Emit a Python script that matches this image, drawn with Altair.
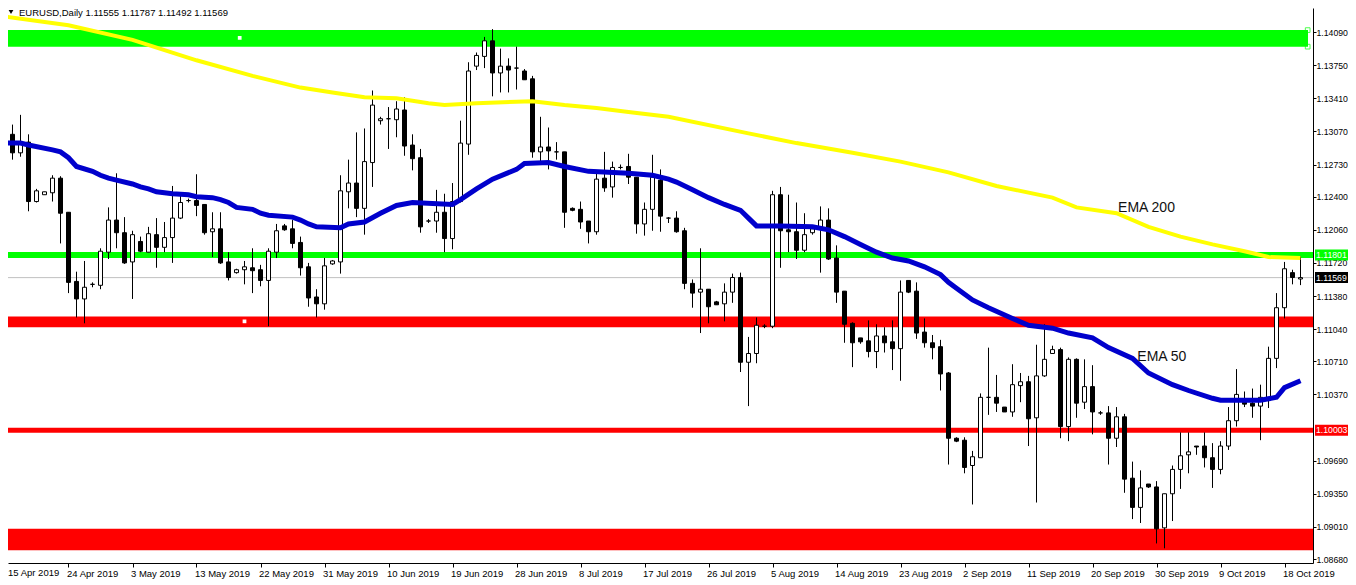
import altair as alt
import pandas as pd

# ---------------- data (EURUSD daily) ----------------
opens = [
    1.1304, 1.1304, 1.1285, 1.1296, 1.1235, 1.1242, 1.1244, 1.1259, 1.1224, 1.1153,
    1.1135, 1.1150, 1.1149, 1.1183, 1.1216, 1.1203, 1.1173, 1.1194, 1.1183, 1.1201,
    1.1188, 1.1198, 1.1218, 1.1236, 1.1236, 1.1232, 1.1204, 1.1207, 1.1173, 1.1162,
    1.1165, 1.1167, 1.1165, 1.1154, 1.1183, 1.1210, 1.1207, 1.1193, 1.1168, 1.1137,
    1.1130, 1.1171, 1.1173, 1.1245, 1.1254, 1.1228, 1.1275, 1.1318, 1.1320, 1.1319,
    1.1329, 1.1293, 1.1280, 1.1215, 1.1215, 1.1224, 1.1197, 1.1235, 1.1294, 1.1374,
    1.1384, 1.1400, 1.1367, 1.1374, 1.1372, 1.1369, 1.1361, 1.1286, 1.1291, 1.1286,
    1.1286, 1.1228, 1.1227, 1.1215, 1.1204, 1.1259, 1.1250, 1.1270, 1.1271, 1.1260,
    1.1212, 1.1227, 1.1257, 1.1218, 1.1218, 1.1205, 1.1151, 1.1142, 1.1145, 1.1132,
    1.1130, 1.1142, 1.1157, 1.1070, 1.1079, 1.1107, 1.1107, 1.1242, 1.1206, 1.1204,
    1.1185, 1.1203, 1.1207, 1.1216, 1.1177, 1.1143, 1.1110, 1.1095, 1.1092, 1.1081,
    1.1097, 1.1091, 1.1084, 1.1154, 1.1143, 1.1101, 1.1090, 1.1086, 1.1059, 1.0992,
    1.0990, 1.0964, 1.0972, 1.1034, 1.1034, 1.1024, 1.1019, 1.1046, 1.1050, 1.1013,
    1.1056, 1.1079, 1.1083, 1.1004, 1.1073, 1.1029, 1.1045, 1.1018, 1.1018, 1.0992,
    1.1014, 1.0951, 1.0921, 1.0945, 1.0942, 1.0900, 1.0935, 1.0960, 1.0975, 1.0984,
    1.0984, 1.0972, 1.0960, 1.0984, 1.1010, 1.1029, 1.1028, 1.1025, 1.1034, 1.1074,
    1.1126, 1.1162, 1.11555,
]
highs = [
    1.1321, 1.1314, 1.1324, 1.1304, 1.1248, 1.1245, 1.1262, 1.1261, 1.1224, 1.1163,
    1.1174, 1.1152, 1.1187, 1.1229, 1.1264, 1.1219, 1.1205, 1.1199, 1.1209, 1.1218,
    1.1214, 1.1251, 1.1244, 1.1238, 1.1263, 1.1232, 1.1224, 1.1224, 1.1183, 1.1166,
    1.1174, 1.1187, 1.1170, 1.1187, 1.1212, 1.1212, 1.1216, 1.1199, 1.1172, 1.1145,
    1.1177, 1.1175, 1.1262, 1.1278, 1.1306, 1.1310, 1.1349, 1.1322, 1.1332, 1.1338,
    1.1342, 1.1304, 1.1289, 1.1217, 1.1247, 1.1243, 1.1254, 1.1318, 1.1378, 1.1388,
    1.1404, 1.1412, 1.1392, 1.1382, 1.1394, 1.1371, 1.1364, 1.1322, 1.1311, 1.1296,
    1.1286, 1.1229, 1.1235, 1.1215, 1.1264, 1.1286, 1.1276, 1.1273, 1.1284, 1.1260,
    1.1234, 1.1283, 1.1268, 1.1219, 1.1225, 1.1208, 1.1155, 1.1187, 1.1145, 1.1133,
    1.1151, 1.1161, 1.1162, 1.1096, 1.1116, 1.1109, 1.1246, 1.1250, 1.1242, 1.1234,
    1.1223, 1.1207, 1.1230, 1.1228, 1.1190, 1.1143, 1.1111, 1.1095, 1.1113, 1.1109,
    1.1106, 1.1113, 1.1154, 1.1154, 1.1152, 1.1115, 1.1098, 1.1093, 1.1060, 1.0993,
    1.0993, 1.0979, 1.1038, 1.1085, 1.1057, 1.1024, 1.1068, 1.1059, 1.1056, 1.1088,
    1.1109, 1.1087, 1.1085, 1.1075, 1.1074, 1.1073, 1.1067, 1.1020, 1.1025, 1.1024,
    1.1017, 1.0968, 1.0959, 1.0945, 1.0948, 1.0935, 1.0964, 1.0998, 1.0998, 1.0984,
    1.0998, 1.0987, 1.0989, 1.1024, 1.1063, 1.1040, 1.1043, 1.1047, 1.1086, 1.1141,
    1.1173, 1.1165, 1.11787,
]
lows = [
    1.1298, 1.1278, 1.1281, 1.1225, 1.1234, 1.1242, 1.1235, 1.1192, 1.1141, 1.1116,
    1.1110, 1.1147, 1.1145, 1.1176, 1.1187, 1.1171, 1.1135, 1.1183, 1.1183, 1.1167,
    1.1183, 1.1172, 1.1217, 1.1234, 1.1220, 1.1201, 1.1178, 1.1171, 1.1154, 1.1161,
    1.1150, 1.1141, 1.1148, 1.1107, 1.1177, 1.1205, 1.1187, 1.1159, 1.1127, 1.1116,
    1.1124, 1.1170, 1.1161, 1.1228, 1.1219, 1.1201, 1.1250, 1.1314, 1.1289, 1.1301,
    1.1282, 1.1267, 1.1203, 1.1213, 1.1203, 1.1183, 1.1186, 1.1234, 1.1283, 1.1370,
    1.1372, 1.1343, 1.1347, 1.1347, 1.1350, 1.1360, 1.1280, 1.1276, 1.1268, 1.1278,
    1.1208, 1.1225, 1.1207, 1.1192, 1.1201, 1.1245, 1.1239, 1.1268, 1.1253, 1.1202,
    1.1200, 1.1205, 1.1204, 1.1213, 1.1203, 1.1145, 1.1126, 1.1100, 1.1110, 1.1129,
    1.1112, 1.1131, 1.1060, 1.1025, 1.1069, 1.1105, 1.1105, 1.1167, 1.1183, 1.1176,
    1.1183, 1.1201, 1.1162, 1.1175, 1.1131, 1.1090, 1.1065, 1.1089, 1.1075, 1.1064,
    1.1080, 1.1062, 1.1051, 1.1141, 1.1094, 1.1085, 1.1073, 1.1041, 1.0965, 1.0988,
    1.0956, 1.0924, 1.0972, 1.1016, 1.1019, 1.1019, 1.1014, 1.1029, 1.0984, 1.0926,
    1.1055, 1.1079, 1.0992, 1.0989, 1.1013, 1.1022, 1.0996, 1.1016, 1.0965, 1.0983,
    1.0936, 1.0909, 1.0905, 1.0941, 1.0884, 1.0879, 1.0907, 1.0940, 1.0956, 1.0975,
    1.0962, 1.0941, 1.0955, 1.0980, 1.1004, 1.1024, 1.1013, 1.0990, 1.1023, 1.1064,
    1.1115, 1.1150, 1.11492,
]
closes = [
    1.1302, 1.1285, 1.1295, 1.1235, 1.1246, 1.1245, 1.1259, 1.1223, 1.1152, 1.1135,
    1.1147, 1.1150, 1.1184, 1.1216, 1.1203, 1.1172, 1.1201, 1.1184, 1.1202, 1.1188,
    1.1198, 1.1218, 1.1234, 1.1236, 1.1231, 1.1203, 1.1207, 1.1172, 1.1157, 1.1165,
    1.1168, 1.1164, 1.1154, 1.1184, 1.1205, 1.1206, 1.1192, 1.1167, 1.1136, 1.1130,
    1.1169, 1.1174, 1.1246, 1.1254, 1.1228, 1.1276, 1.1334, 1.1320, 1.1320, 1.1330,
    1.1292, 1.1279, 1.1209, 1.1215, 1.1224, 1.1197, 1.1235, 1.1295, 1.1369, 1.1385,
    1.1400, 1.1367, 1.1374, 1.1370, 1.1372, 1.1360, 1.1286, 1.1291, 1.1287, 1.1286,
    1.1224, 1.1226, 1.1214, 1.1204, 1.1258, 1.1249, 1.1270, 1.1270, 1.1260, 1.1212,
    1.1227, 1.1260, 1.1220, 1.1218, 1.1204, 1.1151, 1.1141, 1.1145, 1.1127, 1.1129,
    1.1142, 1.1157, 1.1070, 1.1079, 1.1108, 1.1107, 1.1242, 1.1205, 1.1204, 1.1185,
    1.1201, 1.1207, 1.1216, 1.1176, 1.1142, 1.1109, 1.1090, 1.1091, 1.1081, 1.1097,
    1.1090, 1.1084, 1.1142, 1.1142, 1.1100, 1.1090, 1.1085, 1.1058, 1.0992, 1.0989,
    1.0962, 1.0973, 1.1034, 1.1034, 1.1028, 1.1019, 1.1047, 1.1050, 1.1012, 1.1056,
    1.1073, 1.1083, 1.1004, 1.1073, 1.1028, 1.1045, 1.1019, 1.1018, 1.0992, 1.1014,
    1.0950, 1.0921, 1.0941, 1.0942, 1.0899, 1.0935, 1.0960, 1.0974, 1.0978, 1.0983,
    1.0972, 1.0960, 1.0984, 1.1010, 1.1037, 1.1027, 1.1025, 1.1034, 1.1074, 1.1126,
    1.1166, 1.1157, 1.11569,
]

# bar index of each date label on the time axis
date_ticks = [0, 8, 16, 24, 32, 40, 48, 56, 64, 72, 80, 88, 96, 104, 112, 120,
              128, 136, 144, 152, 160]
date_labels = ["15 Apr 2019", "24 Apr 2019", "3 May 2019", "13 May 2019",
               "22 May 2019", "31 May 2019", "10 Jun 2019", "19 Jun 2019",
               "28 Jun 2019", "8 Jul 2019", "17 Jul 2019", "26 Jul 2019",
               "5 Aug 2019", "14 Aug 2019", "23 Aug 2019", "2 Sep 2019",
               "11 Sep 2019", "20 Sep 2019", "30 Sep 2019", "9 Oct 2019",
               "18 Oct 2019"]

price_ticks = [1.14090, 1.13750, 1.13410, 1.13070, 1.12730, 1.12400, 1.12060,
               1.11720, 1.11380, 1.11040, 1.10710, 1.10370, 1.09690, 1.09350,
               1.09010, 1.08680]

ema50_idx = [0, 2, 3, 6, 7, 8, 9, 11, 12, 13, 14, 16, 17, 18, 19, 21, 23, 24, 26, 27,
             28, 29, 31, 32, 33, 36, 37, 38, 39, 42, 43, 45, 47, 49, 51, 56, 57, 59, 61, 64,
             65, 68, 70, 73, 78, 81, 83, 84, 86, 88, 90, 92, 93, 94, 97, 101, 103, 105, 107, 109,
             111, 113, 115, 117, 118, 119, 121, 123, 126, 128, 131, 133, 136, 138, 141, 143, 146, 148, 151, 152,
             157, 159, 160, 162]
ema50_val = [1.1295, 1.1295, 1.1293, 1.1288, 1.1286, 1.1280, 1.1271, 1.1266, 1.1262, 1.1259,
             1.1257, 1.1253, 1.1250, 1.1248, 1.1245, 1.1243, 1.1242, 1.1240, 1.1239, 1.1237,
             1.1234, 1.1229, 1.1227, 1.1223, 1.1221, 1.1219, 1.1216, 1.1212, 1.1209, 1.1208,
             1.1212, 1.1214, 1.1223, 1.1231, 1.1234, 1.1232, 1.1237, 1.1248, 1.1258, 1.1268,
             1.1274, 1.1275, 1.1271, 1.1266, 1.1264, 1.1262, 1.1258, 1.1255, 1.1247, 1.1239,
             1.1232, 1.1226, 1.1218, 1.1210, 1.1210, 1.1209, 1.1206, 1.1199, 1.1191, 1.1183,
             1.1177, 1.1174, 1.1168, 1.1160, 1.1152, 1.1146, 1.1134, 1.1126, 1.1115, 1.1108,
             1.1105, 1.1100, 1.1095, 1.1085, 1.1074, 1.1059, 1.1047, 1.1041, 1.1033, 1.1031,
             1.1031, 1.1034, 1.1044, 1.1051]

ema200_idx = [0, 8, 16, 24, 31, 37, 41, 45, 49, 53, 55, 59, 66, 70, 74, 78, 83, 93,
              99, 106, 112, 118, 124, 131, 134, 139, 143, 147, 151, 155, 158, 162]
ema200_val = [1.1425, 1.1416, 1.1401, 1.1380, 1.1364, 1.1352, 1.1347, 1.1342, 1.1341,
              1.1336, 1.1334, 1.1336, 1.1338, 1.1334, 1.1331, 1.1327, 1.1322, 1.1305,
              1.1295, 1.1285, 1.1276, 1.1265, 1.1251, 1.1239, 1.1229, 1.1223, 1.1209,
              1.1199, 1.1191, 1.1184, 1.1178, 1.1177]

# drawn objects: support / resistance zones and levels
zone_top = [1.1411, 1.1117, 1.0899]
zone_bottom = [1.1394, 1.1106, 1.0877]
level_green = 1.11801
level_red = 1.10003
bid_price = closes[-1]

anchor_idx = [29.4, 30.0]
anchor_price = [1.1403, 1.1112]

ema_labels = ["EMA 200", "EMA 50"]
ema_label_idx = [139.2, 141.6]
ema_label_price = [1.1228, 1.1075]

assert len(opens) == len(highs) == len(lows) == len(closes) == 163
assert len(ema50_idx) == len(ema50_val)
assert len(ema200_idx) == len(ema200_val)

# ---------------- layout ----------------
W, H = 1305, 555
X0 = 0.4375
X1 = X0 + W / 8.0
Y_TOP, Y_BOT = 1.143369, 1.086392
FONT = "Liberation Sans"
AXSIZE = 8.7

xs = alt.Scale(domain=[X0, X1], nice=False, zero=False, padding=0)
ys = alt.Scale(domain=[Y_BOT, Y_TOP], nice=False, zero=False, padding=0)

bars = pd.DataFrame({"i": list(range(len(opens))), "o": opens, "h": highs,
                     "l": lows, "c": closes})
ema50 = pd.DataFrame({"i": ema50_idx, "v": ema50_val})
ema200 = pd.DataFrame({"i": ema200_idx, "v": ema200_val})
zones = pd.DataFrame({"top": zone_top, "bot": zone_bottom})

labels_js = "[" + ",".join("'%s'" % s for s in date_labels) + "]"
ticks_js = "[" + ",".join(str(t) for t in date_ticks) + "]"

x_axis = alt.Axis(values=date_ticks[1:], labelExpr=f"{labels_js}[indexof({ticks_js}, datum.value)]",
                  orient="bottom", grid=False, tickSize=4, tickColor="black",
                  domainColor="black", labelAlign="left", labelBaseline="top",
                  labelPadding=1, labelOffset=-2, labelFont=FONT, labelFontSize=9.5,
                  labelColor="black", labelFlush=False, labelOverlap=False, title=None)
y_axis = alt.Axis(values=price_ticks, format=".5f", orient="right", grid=False,
                  tickSize=3, tickColor="black", domainColor="black",
                  labelPadding=0, labelFont=FONT, labelFontSize=AXSIZE, labelColor="black",
                  labelOverlap=False, labelFlush=False, labelBaseline="middle",
                  labelAlign="left", title=None)


def Xq(f="i"):
    return alt.X(f"{f}:Q", scale=xs, axis=x_axis)


def Yq(f):
    return alt.Y(f"{f}:Q", scale=ys, axis=y_axis)


zone_green = alt.Chart(zones.iloc[:1]).mark_rect(color="#00FF00").encode(
    y=Yq("top"), y2="bot:Q", x=alt.value(0), x2=alt.value(1300))
zone_red = alt.Chart(zones.iloc[1:]).mark_rect(color="#FF0000").encode(
    y=Yq("top"), y2="bot:Q", x=alt.value(0), x2=alt.value(W))

lv = pd.DataFrame({"p": [level_green, level_red, bid_price]})
green_line = alt.Chart(lv.iloc[:1]).mark_rule(color="#00FF00", strokeWidth=6).encode(y=Yq("p"))
red_line = alt.Chart(lv.iloc[1:2]).mark_rule(color="#FF0000", strokeWidth=5).encode(y=Yq("p"))
bid_line = alt.Chart(lv.iloc[2:]).mark_rule(color="#C0C0C0", strokeWidth=1).encode(y=Yq("p"))

anchors = alt.Chart(pd.DataFrame({"i": anchor_idx, "p": anchor_price})).mark_square(
    size=14, color="white", opacity=1, filled=True).encode(x=Xq(), y=Yq("p"))

handles = alt.Chart(pd.DataFrame({"i": [162.9, 162.9], "p": [zone_top[0], zone_bottom[0]]})).mark_square(
    size=22, filled=False, color="#00FF00", strokeWidth=1).encode(x=Xq(), y=Yq("p"))

wicks = alt.Chart(bars).mark_rule(color="black", strokeWidth=1, clip=True).encode(
    x=Xq(), y=Yq("l"), y2="h:Q")
bodies = alt.Chart(bars).mark_bar(width=4, stroke="black", strokeWidth=1, clip=True).encode(
    x=Xq(), y=Yq("o"), y2="c:Q",
    fill=alt.condition("datum.c >= datum.o", alt.value("white"), alt.value("black")),
)

ema200_line = alt.Chart(ema200).mark_line(color="#FFFF00", strokeWidth=4, clip=True).encode(
    x=Xq(), y=Yq("v"))
ema50_line = alt.Chart(ema50).mark_line(color="#0000CC", strokeWidth=5, clip=True).encode(
    x=Xq(), y=Yq("v"))

ema_text = alt.Chart(pd.DataFrame({"t": ema_labels, "i": ema_label_idx, "p": ema_label_price})).mark_text(
    align="left", baseline="middle", font=FONT, fontSize=14, color="#111111").encode(
    x=Xq(), y=Yq("p"), text="t:N")

boxes = pd.DataFrame({"p": [level_green, bid_price, level_red],
                      "kind": ["green", "bid", "red"]})
box_color = alt.Color("kind:N", scale=alt.Scale(domain=["green", "bid", "red"],
                                                range=["#00FF00", "#000000", "#FF0000"]), legend=None)
box_marks = alt.Chart(boxes).mark_tick(orient="horizontal", size=33, thickness=11, opacity=1).encode(
    x=alt.value(1323.5), y=Yq("p"), color=box_color)
box_text = alt.Chart(boxes).transform_calculate(lbl="format(datum.p, '.5f')").mark_text(
    align="left", baseline="middle", font=FONT, fontSize=AXSIZE, color="white").encode(
    x=alt.value(1308), y=Yq("p"), text="lbl:N")

header = "EURUSD,Daily  %.5f %.5f %.5f %.5f" % (opens[-1], highs[-1], lows[-1], closes[-1])
title_text = alt.Chart(pd.DataFrame({"t": [header]})).mark_text(
    align="left", baseline="middle", font=FONT, fontSize=9.5, color="black").encode(
    x=alt.value(11), y=alt.value(4.5), text="t:N")
title_tri = alt.Chart(pd.DataFrame({"t": ["v"]})).mark_point(
    shape="triangle-down", filled=True, color="black", size=22, opacity=1).encode(
    x=alt.value(3), y=alt.value(4))

first_label = alt.Chart(pd.DataFrame({"t": [date_labels[0]]})).mark_text(
    align="left", baseline="top", font=FONT, fontSize=9.5, color="black").encode(
    x=alt.value(0), y=alt.value(H + 5), text="t:N")

chart = alt.layer(
    zone_green, zone_red, green_line, red_line, bid_line, anchors, handles,
    wicks, bodies, ema200_line, ema50_line, ema_text,
    box_marks, box_text, title_tri, title_text, first_label,
).properties(
    width=W, height=H,
    autosize=alt.AutoSizeParams(type="none"),
    padding={"left": 0, "top": 0, "right": 35, "bottom": 20},
    background="white",
).configure_view(stroke=None)

chart.save("out.html", embed_options={"renderer": "svg", "actions": False})
